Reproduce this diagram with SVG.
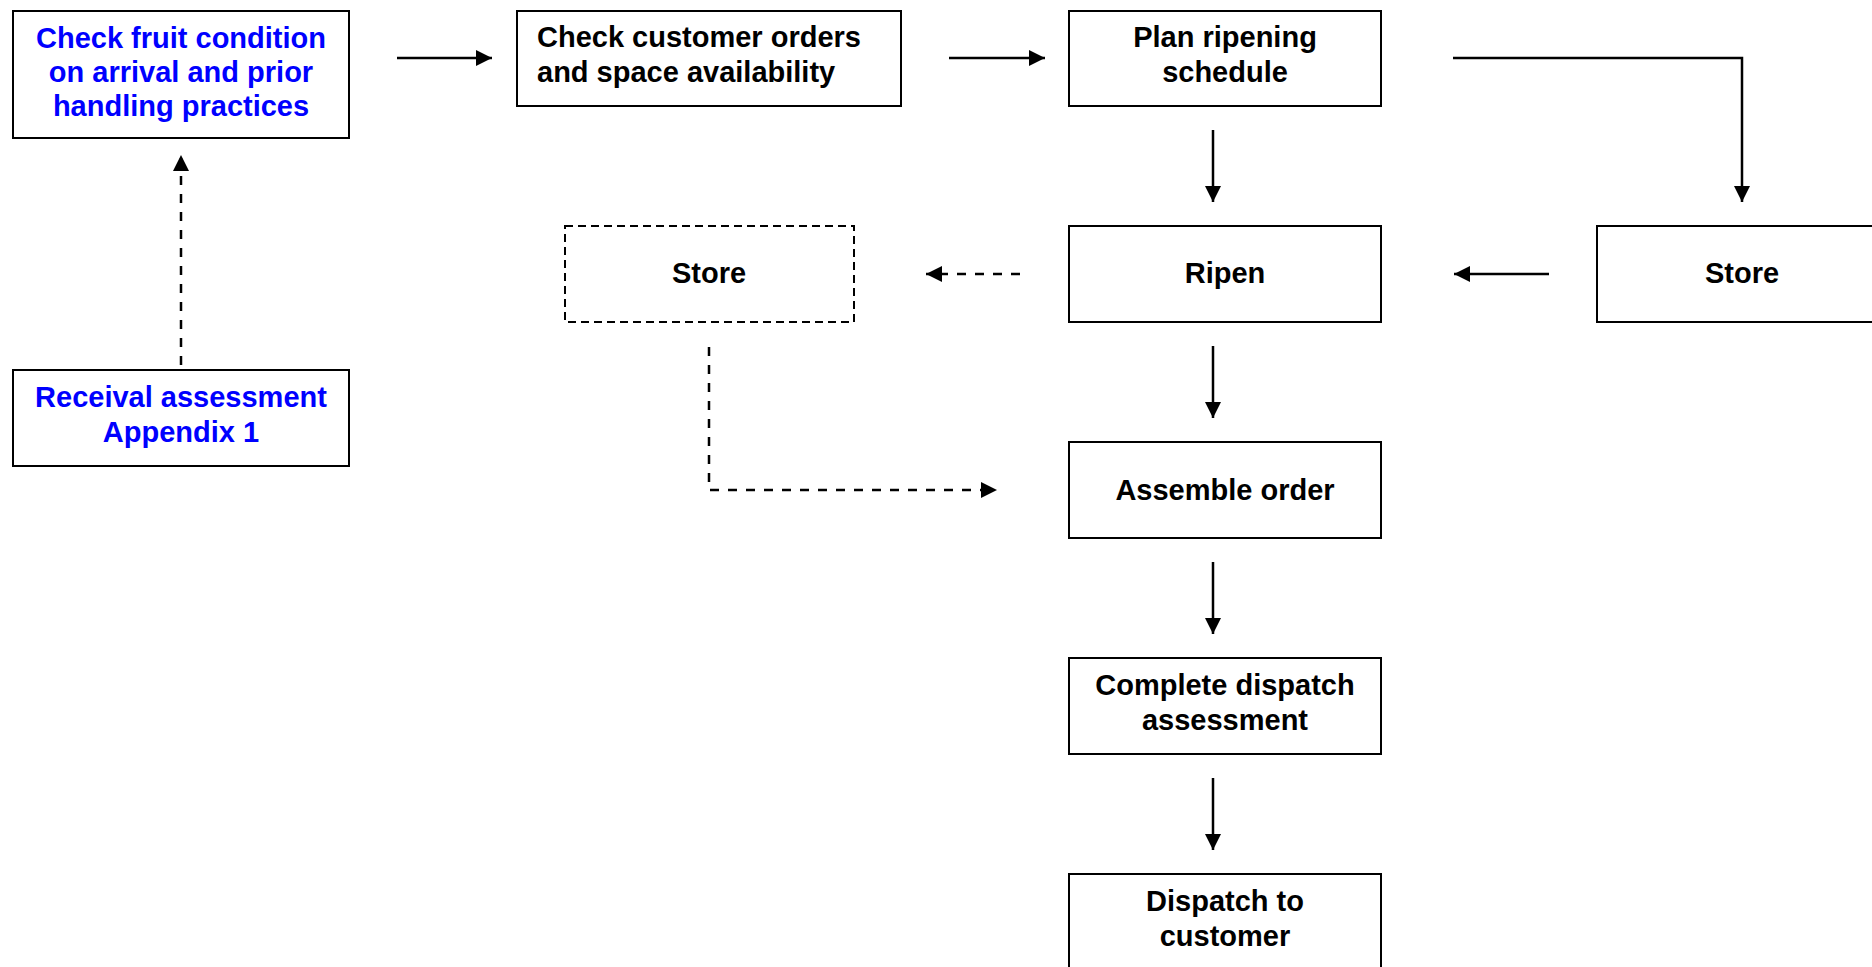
<svg xmlns="http://www.w3.org/2000/svg" width="1872" height="967" viewBox="0 0 1872 967">
  <style>
    .box { fill: #ffffff; stroke: #000000; stroke-width: 2; }
    .box-dashed { fill: #ffffff; stroke: #000000; stroke-width: 2; stroke-dasharray: 8 5; }
    .lbl { font-family: "Liberation Sans", Arial, Helvetica, sans-serif; font-weight: bold; font-size: 29px; fill: #000000; text-anchor: middle; }
    .blue { fill: #0000ff; }
    .start { text-anchor: start; }
    .link { fill: none; stroke: #000000; stroke-width: 2.5; marker-end: url(#arrow); }
    .dashed { stroke-dasharray: 9 9; }
  </style>
  <defs>
    <marker id="arrow" markerUnits="userSpaceOnUse" markerWidth="17" markerHeight="16" refX="16" refY="8" orient="auto">
      <path d="M0,0 L16,8 L0,16 z" fill="#000000"/>
    </marker>
  </defs>
  <rect width="1872" height="967" fill="#ffffff"/>

  <g id="connectors">
    <path class="link" d="M397,58 L492,58"/>
    <path class="link" d="M949,58 L1045,58"/>
    <path class="link" d="M1453,58 L1742,58 L1742,202"/>
    <path class="link" d="M1213,130 L1213,202"/>
    <path class="link" d="M1549,274 L1454,274"/>
    <path class="link dashed" d="M1020,274 L926,274"/>
    <path class="link dashed" d="M709,347 L709,490 L997,490"/>
    <path class="link" d="M1213,346 L1213,418"/>
    <path class="link" d="M1213,562 L1213,634"/>
    <path class="link" d="M1213,778 L1213,850"/>
    <path class="link dashed" d="M181,365 L181,155"/>
  </g>

  <g id="check-fruit">
    <rect class="box" x="13" y="11" width="336" height="127"/>
    <text class="lbl blue" x="181" y="48">Check fruit condition</text>
    <text class="lbl blue" x="181" y="82">on arrival and prior</text>
    <text class="lbl blue" x="181" y="116">handling practices</text>
  </g>

  <g id="check-orders">
    <rect class="box" x="517" y="11" width="384" height="95"/>
    <text class="lbl start" x="537" y="47">Check customer orders</text>
    <text class="lbl start" x="537" y="82">and space availability</text>
  </g>

  <g id="plan-ripening">
    <rect class="box" x="1069" y="11" width="312" height="95"/>
    <text class="lbl" x="1225" y="47">Plan ripening</text>
    <text class="lbl" x="1225" y="82">schedule</text>
  </g>

  <g id="store-optional">
    <rect class="box-dashed" x="565" y="226" width="289" height="96"/>
    <text class="lbl" x="709" y="283">Store</text>
  </g>

  <g id="ripen">
    <rect class="box" x="1069" y="226" width="312" height="96"/>
    <text class="lbl" x="1225" y="283">Ripen</text>
  </g>

  <g id="store">
    <rect class="box" x="1597" y="226" width="291" height="96"/>
    <text class="lbl" x="1742" y="283">Store</text>
  </g>

  <g id="receival">
    <rect class="box" x="13" y="370" width="336" height="96"/>
    <text class="lbl blue" x="181" y="407">Receival assessment</text>
    <text class="lbl blue" x="181" y="442">Appendix 1</text>
  </g>

  <g id="assemble">
    <rect class="box" x="1069" y="442" width="312" height="96"/>
    <text class="lbl" x="1225" y="500">Assemble order</text>
  </g>

  <g id="dispatch-assessment">
    <rect class="box" x="1069" y="658" width="312" height="96"/>
    <text class="lbl" x="1225" y="695">Complete dispatch</text>
    <text class="lbl" x="1225" y="730">assessment</text>
  </g>

  <g id="dispatch">
    <rect class="box" x="1069" y="874" width="312" height="96"/>
    <text class="lbl" x="1225" y="911">Dispatch to</text>
    <text class="lbl" x="1225" y="946">customer</text>
  </g>
</svg>
